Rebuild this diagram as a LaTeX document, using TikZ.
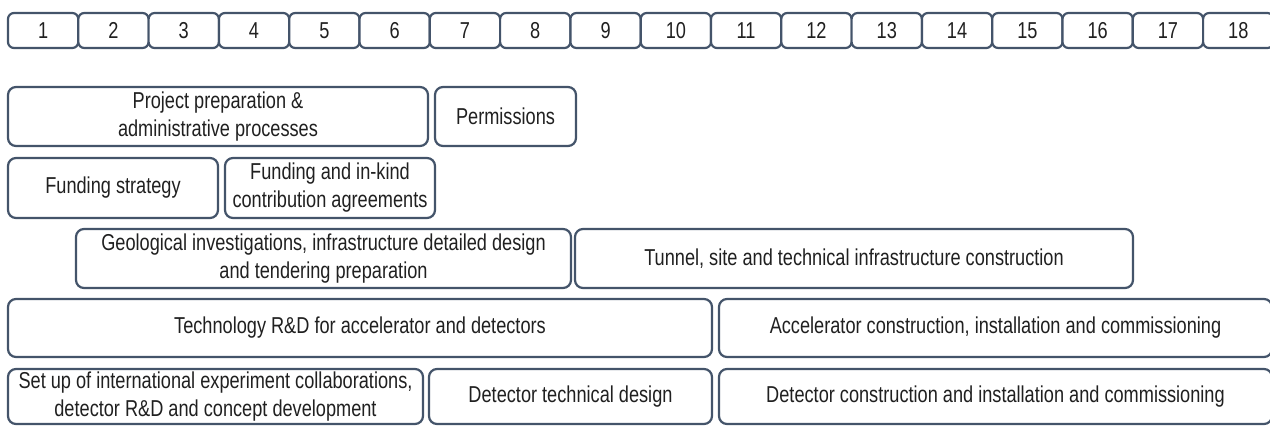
\documentclass[tikz,border=0pt]{standalone}
\usepackage{fontspec}
\setmainfont{Liberation Sans}[FakeStretch=0.79]
\definecolor{edge}{HTML}{44546A}
\definecolor{txt}{HTML}{202020}
\begin{document}
\begin{tikzpicture}[x=1pt,y=-1pt,
  box/.style={draw=edge, line width=2.2pt, rounded corners=8pt, fill=white,
    inner sep=0pt, text=txt, font=\fontsize{23}{28}\selectfont, align=center},
  cell/.style={box, rounded corners=6pt, minimum width=70.3pt, minimum height=35pt}]
\useasboundingbox (0,0) rectangle (1270,426);
\clip (0,0) rectangle (1270,426);
\foreach \k in {1,...,18}
  \node[cell] (c\k) at ({8+70.3*(\k-0.5)},30.5) {\k};

\node[box, minimum width=420pt, minimum height=59pt] (prep) at (218,116.5)
  {Project preparation \&\\administrative processes};
\node[box, minimum width=141pt, minimum height=59pt] (perm) at (505.5,116.5)
  {Permissions};
\node[box, minimum width=210pt, minimum height=60pt] (fund) at (113,188)
  {Funding strategy};
\node[box, minimum width=210pt, minimum height=60pt] (inkind) at (330,188)
  {Funding and in-kind\\contribution agreements};
\node[box, minimum width=495pt, minimum height=59pt] (geo) at (323.5,258.5)
  {Geological investigations, infrastructure detailed design\\and tendering preparation};
\node[box, minimum width=558pt, minimum height=59pt] (tunnel) at (854,258.5)
  {Tunnel, site and technical infrastructure construction};
\node[box, minimum width=704pt, minimum height=58pt] (tech) at (360,328)
  {Technology R\&D for accelerator and detectors};
\node[box, minimum width=553pt, minimum height=58pt] (acc) at (995.5,328)
  {Accelerator construction, installation and commissioning};
\node[box, minimum width=415pt, minimum height=55pt] (setup) at (215.5,396.5)
  {Set up of international experiment collaborations,\\detector R\&D and concept development};
\node[box, minimum width=283pt, minimum height=55pt] (dettd) at (570.5,396.5)
  {Detector technical design};
\node[box, minimum width=553pt, minimum height=55pt] (detcon) at (995.5,396.5)
  {Detector construction and installation and commissioning};
\end{tikzpicture}
\end{document}
